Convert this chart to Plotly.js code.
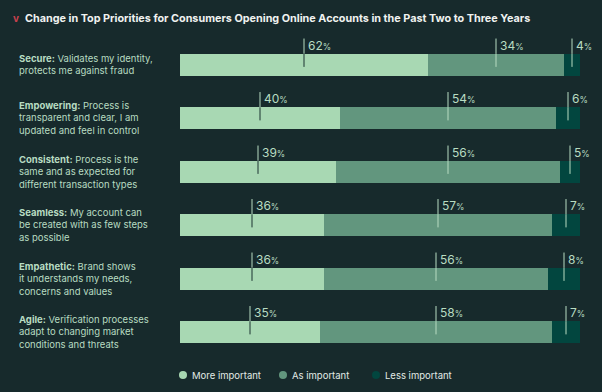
<!DOCTYPE html>
<html>
<head>
<meta charset="utf-8">
<script src="https://cdn.plot.ly/plotly-3.0.1.min.js"></script>
<style>
html,body{margin:0;padding:0;background:#172a2c;}
#chart{width:602px;height:392px;}
</style>
</head>
<body>
<div id="chart"></div>
<script>
// ---- data ----
var categoryNames = ["Secure:", "Empowering:", "Consistent:", "Seamless:", "Empathetic:", "Agile:"];
var categoryDescriptions = [
  "Validates my identity,<br>protects me against fraud",
  "Process is<br>transparent and clear, I am<br>updated and feel in control",
  "Process is the<br>same and as expected for<br>different transaction types",
  "My account can<br>be created with as few steps<br>as possible",
  "Brand shows<br>it understands my needs,<br>concerns and values",
  "Verification processes<br>adapt to changing market<br>conditions and threats"
];
var seriesNames = ["More important", "As important", "Less important"];
var moreImportant = [62, 40, 39, 36, 36, 35];
var asImportant   = [34, 54, 56, 57, 56, 58];
var lessImportant = [4, 6, 5, 7, 8, 7];

// ---- style ----
var BG = "#172a2c";
var colors = ["#a8d8b3", "#62967e", "#02463f"];
var textMint = "#b8dcc2";
var fontFam = "Inter, 'Noto Sans', Roboto, sans-serif";

var series = [moreImportant, asImportant, lessImportant];
var rows = categoryNames.map(function(_, i){ return i; });

var traces = series.map(function(vals, s){
  return {
    type: "bar",
    orientation: "h",
    name: seriesNames[s],
    x: vals,
    y: rows,
    width: 0.41,
    marker: {color: colors[s], line: {width: 0}},
    hoverinfo: "skip",
    showlegend: false
  };
});

var shapes = [];
var annotations = [];
var half = 0.205;

rows.forEach(function(i){
  var start = 0;
  series.forEach(function(vals, s){
    var v = vals[i];
    var mid = start + v / 2;
    shapes.push({type: "line", xref: "x", yref: "y", x0: mid, x1: mid,
      y0: i - 0.49, y1: i - half, line: {color: textMint, width: 1}});
    shapes.push({type: "line", xref: "x", yref: "y", x0: mid, x1: mid,
      y0: i - half, y1: i + 0.04, line: {color: s === 0 ? "#1b3331" : textMint, width: 1}});
    annotations.push({
      xref: "x", yref: "y", x: mid, y: i - 0.49,
      xanchor: "left", yanchor: "top", xshift: 2, yshift: 3,
      text: v + "<span style='font-size:8.5px'>%</span>",
      showarrow: false,
      font: {family: fontFam, size: 12, color: textMint}
    });
    start += v;
  });
  annotations.push({
    xref: "paper", yref: "y", x: 0, y: i,
    xanchor: "left", yanchor: "middle", xshift: -163, align: "left",
    text: "<b>" + categoryNames[i] + "</b> " + categoryDescriptions[i],
    showarrow: false,
    font: {family: fontFam, size: 9.5, color: textMint}
  });
});

// title
annotations.push({
  xref: "paper", yref: "paper", x: 0, y: 1, xanchor: "left", yanchor: "middle",
  xshift: -157, yshift: 20,
  text: "<b>Change in Top Priorities for Consumers Opening Online Accounts in the Past Two to Three Years</b>",
  showarrow: false, font: {family: fontFam, size: 10.8, color: "#f0f2f0"}
});
annotations.push({
  xref: "paper", yref: "paper", x: 0, y: 1, xanchor: "center", yanchor: "middle",
  xshift: -164, yshift: 20,
  text: "<b>v</b>", showarrow: false, font: {family: fontFam, size: 10, color: "#c8414e"}
});

// legend (custom)
var legendX = [183, 283, 376];
seriesNames.forEach(function(name, s){
  var px = legendX[s] - 180;
  shapes.push({type: "circle", xref: "paper", yref: "paper",
    xsizemode: "pixel", ysizemode: "pixel", xanchor: 0, yanchor: 0,
    x0: px - 4, x1: px + 4, y0: -20, y1: -12,
    line: {width: 0}, fillcolor: colors[s]});
  annotations.push({
    xref: "paper", yref: "paper", x: 0, y: 0, xanchor: "left", yanchor: "middle",
    xshift: px + 7, yshift: -16, text: name, showarrow: false,
    font: {family: fontFam, size: 9.5, color: "#e2ebe6"}
  });
});

var layout = {
  width: 602, height: 392,
  paper_bgcolor: BG, plot_bgcolor: BG,
  barmode: "stack",
  margin: {l: 180, r: 22, t: 38, b: 33},
  showlegend: false,
  xaxis: {range: [0, 100], visible: false, fixedrange: true},
  yaxis: {range: [5.5, -0.5], visible: false, fixedrange: true},
  shapes: shapes,
  annotations: annotations,
  font: {family: fontFam}
};

Plotly.newPlot("chart", traces, layout, {displayModeBar: false, staticPlot: true});
</script>
</body>
</html>
